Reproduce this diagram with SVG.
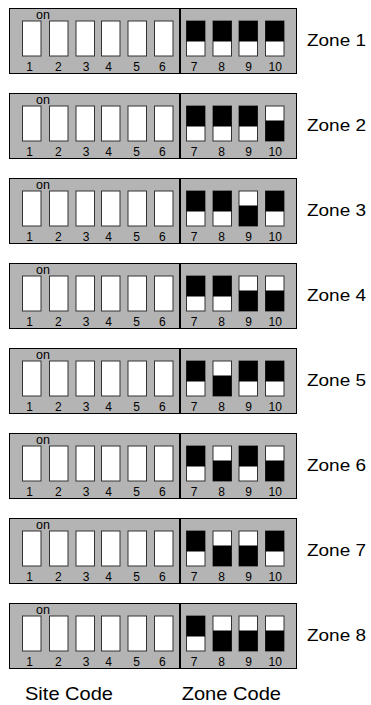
<svg xmlns="http://www.w3.org/2000/svg" xmlns:xlink="http://www.w3.org/1999/xlink" width="371" height="705" viewBox="0 0 371 705">
<style>
.panel{fill:#b4b4b4;stroke:#000;stroke-width:1}
.div{stroke:#000;stroke-width:2}
.sw{fill:#fff;stroke:#333;stroke-width:1}
.blk{fill:#000}
.t{font-family:"Liberation Sans",Arial,sans-serif;fill:#000}
.num{font-size:12px;text-anchor:middle}
.on{font-size:12.5px}
.zl{font-size:16px}
.cap{font-size:18.5px}
</style>
<defs>
<g id="swT"><rect class="sw" x="0" y="0" width="18.5" height="35"/><rect class="blk" x="0" y="0" width="18.5" height="20.5"/></g>
<g id="swB"><rect class="sw" x="0" y="0" width="18.5" height="35"/><rect class="blk" x="0" y="14.5" width="18.5" height="20.5"/></g>
<g id="base">
<rect class="panel" x="9.5" y="0" width="287" height="65"/>
<line class="div" x1="180" y1="0" x2="180" y2="65"/>
<rect class="sw" x="22.5" y="12.5" width="18.5" height="35"/>
<rect class="sw" x="49.5" y="12.5" width="18.5" height="35"/>
<rect class="sw" x="76" y="12.5" width="18.5" height="35"/>
<rect class="sw" x="101.5" y="12.5" width="18.5" height="35"/>
<rect class="sw" x="128" y="12.5" width="18.5" height="35"/>
<rect class="sw" x="154.5" y="12.5" width="18.5" height="35"/>
<text class="t on" x="36" y="10">on</text>
<text class="t num" x="29.5" y="62.5">1</text>
<text class="t num" x="58.3" y="62.5">2</text>
<text class="t num" x="86" y="62.5">3</text>
<text class="t num" x="108.5" y="62.5">4</text>
<text class="t num" x="136.7" y="62.5">5</text>
<text class="t num" x="162.3" y="62.5">6</text>
<text class="t num" x="194" y="62.5">7</text>
<text class="t num" x="221.7" y="62.5">8</text>
<text class="t num" x="248.7" y="62.5">9</text>
<text class="t num" x="275.3" y="62.5">10</text>
</g>
</defs>
<g id="connectors"></g>
<g id="zone1" transform="translate(0,8.5)">
<use xlink:href="#base"/>
<use xlink:href="#swT" x="186.5" y="12.5"/><use xlink:href="#swT" x="213" y="12.5"/><use xlink:href="#swT" x="239" y="12.5"/><use xlink:href="#swT" x="265.5" y="12.5"/>
<text class="t zl" x="307" y="37.2" textLength="59" lengthAdjust="spacingAndGlyphs">Zone 1</text>
</g>
<g id="zone2" transform="translate(0,93.5)">
<use xlink:href="#base"/>
<use xlink:href="#swT" x="186.5" y="12.5"/><use xlink:href="#swT" x="213" y="12.5"/><use xlink:href="#swT" x="239" y="12.5"/><use xlink:href="#swB" x="265.5" y="12.5"/>
<text class="t zl" x="307" y="37.2" textLength="59" lengthAdjust="spacingAndGlyphs">Zone 2</text>
</g>
<g id="zone3" transform="translate(0,178.5)">
<use xlink:href="#base"/>
<use xlink:href="#swT" x="186.5" y="12.5"/><use xlink:href="#swT" x="213" y="12.5"/><use xlink:href="#swB" x="239" y="12.5"/><use xlink:href="#swT" x="265.5" y="12.5"/>
<text class="t zl" x="307" y="37.2" textLength="59" lengthAdjust="spacingAndGlyphs">Zone 3</text>
</g>
<g id="zone4" transform="translate(0,263.5)">
<use xlink:href="#base"/>
<use xlink:href="#swT" x="186.5" y="12.5"/><use xlink:href="#swT" x="213" y="12.5"/><use xlink:href="#swB" x="239" y="12.5"/><use xlink:href="#swB" x="265.5" y="12.5"/>
<text class="t zl" x="307" y="37.2" textLength="59" lengthAdjust="spacingAndGlyphs">Zone 4</text>
</g>
<g id="zone5" transform="translate(0,348.5)">
<use xlink:href="#base"/>
<use xlink:href="#swT" x="186.5" y="12.5"/><use xlink:href="#swB" x="213" y="12.5"/><use xlink:href="#swT" x="239" y="12.5"/><use xlink:href="#swT" x="265.5" y="12.5"/>
<text class="t zl" x="307" y="37.2" textLength="59" lengthAdjust="spacingAndGlyphs">Zone 5</text>
</g>
<g id="zone6" transform="translate(0,433.5)">
<use xlink:href="#base"/>
<use xlink:href="#swT" x="186.5" y="12.5"/><use xlink:href="#swB" x="213" y="12.5"/><use xlink:href="#swT" x="239" y="12.5"/><use xlink:href="#swB" x="265.5" y="12.5"/>
<text class="t zl" x="307" y="37.2" textLength="59" lengthAdjust="spacingAndGlyphs">Zone 6</text>
</g>
<g id="zone7" transform="translate(0,518.5)">
<use xlink:href="#base"/>
<use xlink:href="#swT" x="186.5" y="12.5"/><use xlink:href="#swB" x="213" y="12.5"/><use xlink:href="#swB" x="239" y="12.5"/><use xlink:href="#swT" x="265.5" y="12.5"/>
<text class="t zl" x="307" y="37.2" textLength="59" lengthAdjust="spacingAndGlyphs">Zone 7</text>
</g>
<g id="zone8" transform="translate(0,603.5)">
<use xlink:href="#base"/>
<use xlink:href="#swT" x="186.5" y="12.5"/><use xlink:href="#swB" x="213" y="12.5"/><use xlink:href="#swB" x="239" y="12.5"/><use xlink:href="#swB" x="265.5" y="12.5"/>
<text class="t zl" x="307" y="37.2" textLength="59" lengthAdjust="spacingAndGlyphs">Zone 8</text>
</g>
<g id="labels">
<text class="t cap" x="25" y="700" textLength="88" lengthAdjust="spacingAndGlyphs">Site Code</text>
<text class="t cap" x="181.7" y="700" textLength="99.3" lengthAdjust="spacingAndGlyphs">Zone Code</text>
</g>
</svg>
